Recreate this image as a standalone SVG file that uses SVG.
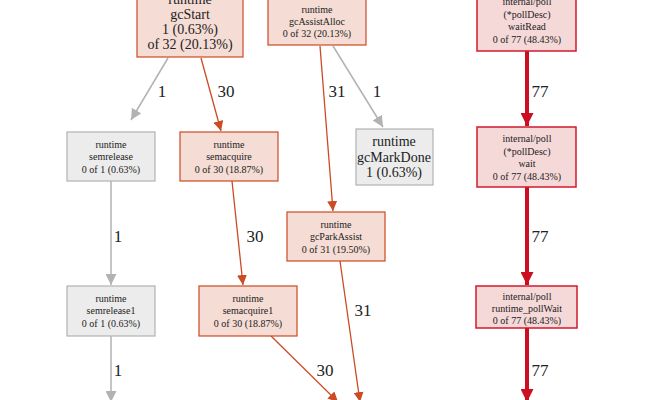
<svg xmlns="http://www.w3.org/2000/svg" width="650" height="400" viewBox="0 0 650 400">
<style>
text{font-family:"Liberation Serif","DejaVu Serif",serif;text-anchor:middle;fill:#222}
.s{font-size:10px}.m{font-size:14px}.l{font-size:17px}
.o rect{fill:#f5dcd4;stroke:#cc4a24;stroke-width:1.2}
.g rect{fill:#ececec;stroke:#b2b2b2;stroke-width:1.2}
.r rect{fill:#f5d8d8;stroke:#d4182b;stroke-width:1.5}
.eo{stroke:#cc4a24;stroke-width:1.3;fill:none}
.eg{stroke:#b2b2b2;stroke-width:1.5;fill:none}
.er{stroke:#cc0e22;stroke-width:4;fill:none}
</style>
<defs>
<marker id="ao" viewBox="0 0 10 10" refX="10" refY="5" markerWidth="10" markerHeight="10" markerUnits="userSpaceOnUse" orient="auto"><path d="M0,0L10,5L0,10z" fill="#cc4a24"/></marker>
<marker id="ag" viewBox="0 0 10 10" refX="10" refY="5" markerWidth="11" markerHeight="11" markerUnits="userSpaceOnUse" orient="auto"><path d="M0,0L10,5L0,10z" fill="#b2b2b2"/></marker>
<marker id="ar" viewBox="0 0 10 10" refX="10" refY="5" markerWidth="13" markerHeight="13" markerUnits="userSpaceOnUse" orient="auto"><path d="M0,0L10,5L0,10z" fill="#cc0e22"/></marker>
</defs>
<rect width="650" height="400" fill="#fff"/>
<g id="connectors">
<path class="eg" d="M168,58L131,120" marker-end="url(#ag)"/>
<path class="eo" d="M201,58L221,131" marker-end="url(#ao)"/>
<path class="eo" d="M320,46L333,211" marker-end="url(#ao)"/>
<path class="eg" d="M333,46L383,127" marker-end="url(#ag)"/>
<path class="eg" d="M111,181L111,285" marker-end="url(#ag)"/>
<path class="eo" d="M232,181L243,285" marker-end="url(#ao)"/>
<path class="eo" d="M340,261L360,402" marker-end="url(#ao)"/>
<path class="eo" d="M271,336L338,402" marker-end="url(#ao)"/>
<path class="eg" d="M111,336L111,402" marker-end="url(#ag)"/>
<path class="er" d="M527,51L527,126" marker-end="url(#ar)"/>
<path class="er" d="M527,187L527,285" marker-end="url(#ar)"/>
<path class="er" d="M527,328L527,402" marker-end="url(#ar)"/>
<text class="l" x="162" y="97">1</text>
<text class="l" x="226" y="97">30</text>
<text class="l" x="337" y="97">31</text>
<text class="l" x="377" y="97">1</text>
<text class="l" x="118" y="242">1</text>
<text class="l" x="255" y="242">30</text>
<text class="l" x="363" y="316">31</text>
<text class="l" x="325" y="376">30</text>
<text class="l" x="118" y="376">1</text>
<text class="l" x="540" y="97">77</text>
<text class="l" x="540" y="242">77</text>
<text class="l" x="540" y="376">77</text>
</g>
<g id="gcStart" class="o"><rect x="137" y="-6" width="106" height="63"/>
<text class="m" x="190" y="4">runtime</text><text class="m" x="190" y="19">gcStart</text><text class="m" x="190" y="34">1 (0.63%)</text><text class="m" x="190" y="49">of 32 (20.13%)</text></g>
<g id="gcAssistAlloc" class="o"><rect x="268" y="-6" width="98" height="51"/>
<text class="s" x="317" y="13">runtime</text><text class="s" x="317" y="25">gcAssistAlloc</text><text class="s" x="317" y="37">0 of 32 (20.13%)</text></g>
<g id="semrelease" class="g"><rect x="67" y="132" width="88" height="49"/>
<text class="s" x="111" y="148">runtime</text><text class="s" x="111" y="160">semrelease</text><text class="s" x="111" y="173">0 of 1 (0.63%)</text></g>
<g id="semacquire" class="o"><rect x="180" y="132" width="98" height="49"/>
<text class="s" x="229" y="148">runtime</text><text class="s" x="229" y="160">semacquire</text><text class="s" x="229" y="173">0 of 30 (18.87%)</text></g>
<g id="gcMarkDone" class="g"><rect x="356" y="129" width="77" height="56"/>
<text class="m" x="394" y="146">runtime</text><text class="m" x="394" y="162">gcMarkDone</text><text class="m" x="394" y="177">1 (0.63%)</text></g>
<g id="gcParkAssist" class="o"><rect x="287" y="212" width="98" height="49"/>
<text class="s" x="336" y="228">runtime</text><text class="s" x="336" y="240">gcParkAssist</text><text class="s" x="336" y="253">0 of 31 (19.50%)</text></g>
<g id="semrelease1" class="g"><rect x="67" y="286" width="88" height="50"/>
<text class="s" x="111" y="302">runtime</text><text class="s" x="111" y="314">semrelease1</text><text class="s" x="111" y="327">0 of 1 (0.63%)</text></g>
<g id="semacquire1" class="o"><rect x="199" y="286" width="98" height="50"/>
<text class="s" x="248" y="302">runtime</text><text class="s" x="248" y="314">semacquire1</text><text class="s" x="248" y="327">0 of 30 (18.87%)</text></g>
<g id="waitRead" class="r"><rect x="477" y="-6" width="99" height="57"/>
<text class="s" x="527" y="5">internal/poll</text><text class="s" x="527" y="18">(*pollDesc)</text><text class="s" x="527" y="30">waitRead</text><text class="s" x="527" y="43">0 of 77 (48.43%)</text></g>
<g id="wait" class="r"><rect x="477" y="127" width="99" height="60"/>
<text class="s" x="527" y="142">internal/poll</text><text class="s" x="527" y="155">(*pollDesc)</text><text class="s" x="527" y="167">wait</text><text class="s" x="527" y="180">0 of 77 (48.43%)</text></g>
<g id="pollWait" class="r"><rect x="476" y="286" width="101" height="42"/>
<text class="s" x="527" y="300">internal/poll</text><text class="s" x="527" y="312">runtime_pollWait</text><text class="s" x="527" y="324">0 of 77 (48.43%)</text></g>
</svg>
